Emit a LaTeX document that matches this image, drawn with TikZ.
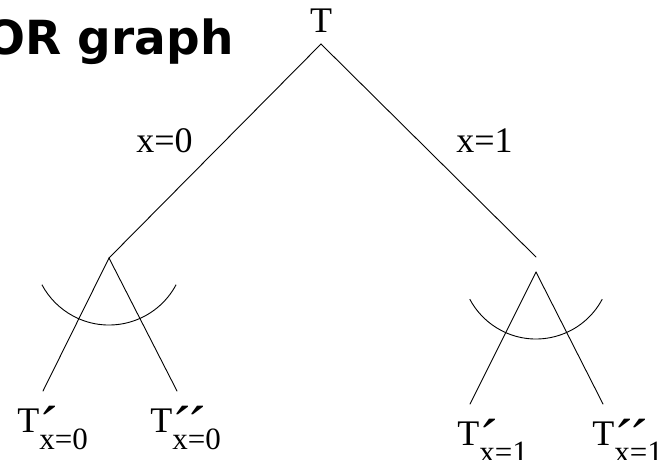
\documentclass[tikz,border=0pt]{standalone}
\usepackage{fontspec}
\setmainfont{Liberation Serif}
\newfontfamily\titlefont{DejaVu Sans}
\newcommand\leaflab[2]{T\rlap{\raisebox{-14pt}{\fontsize{58}{58}\selectfont #1}}\raisebox{-17pt}{\fontsize{31}{31}\selectfont #2}}
\begin{document}
\begin{tikzpicture}[x=1pt,y=-1pt,line width=0.9pt,
  lab/.style={inner sep=0pt,font=\fontsize{36}{36}\selectfont},
  leafnode/.style={inner sep=0pt,anchor=base west,font=\fontsize{36}{36}\selectfont},
  conn/.style={draw=black,line cap=round},
  andarc/.style={draw=black}]
\useasboundingbox (0,0) rectangle (659,459);
\clip (0,0) rectangle (659,459);
% title
\node[anchor=base east,inner sep=0pt,font=\titlefont\bfseries\fontsize{47}{47}\selectfont] (title) at (234,54) {OR graph};
% root
\node[lab,anchor=base] (T) at (321,32) {T};
\coordinate (top) at (321,44);
% branch labels
\node[lab,anchor=base] (x0) at (164.5,152) {x=0};
\node[lab,anchor=base] (x1) at (484.5,152) {x=1};
% AND nodes
\coordinate (la) at (109,258);
\coordinate (rend) at (536,257);
\coordinate (ra) at (536,272);
\draw[conn] (top) -- (la);
\draw[conn] (top) -- (rend);
% leaves
\coordinate (l1) at (43,391);
\coordinate (l2) at (177,391);
\coordinate (r1) at (470,404);
\coordinate (r2) at (603,404);
\draw[conn] (la) -- (l1);
\draw[conn] (la) -- (l2);
\draw[conn] (ra) -- (r1);
\draw[conn] (ra) -- (r2);
% AND arcs
\draw[andarc] (109,249) ++(28:76) arc[start angle=28,end angle=152,radius=76];
\draw[andarc] (536,264) ++(28:75) arc[start angle=28,end angle=152,radius=75];
% leaf labels
\node[leafnode] (t1) at (17,432) {\leaflab{´}{x=0}};
\node[leafnode] (t2) at (150,432) {\leaflab{´\kern-0.08em´}{x=0}};
\node[leafnode] (t3) at (457,445) {\leaflab{´}{x=1}};
\node[leafnode] (t4) at (592,445) {\leaflab{´\kern-0.08em´}{x=1}};
\end{tikzpicture}
\end{document}
